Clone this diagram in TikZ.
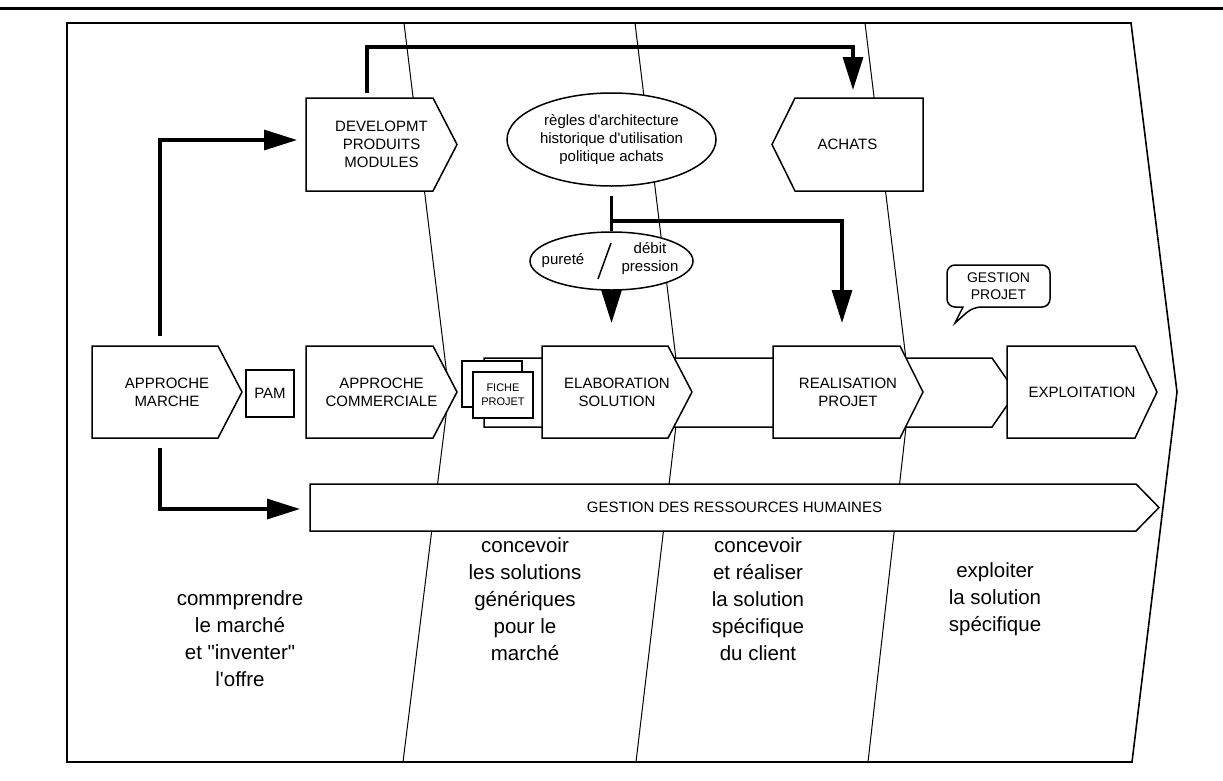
\documentclass[tikz,border=0pt]{standalone}
\usepackage{fontspec}
\setmainfont{Liberation Sans}[Ligatures=TeXOff]
\usetikzlibrary{arrows.meta,calc,shapes.geometric}
\pgfdeclarelayer{lanes}
\pgfdeclarelayer{shapes}
\pgfsetlayers{lanes,shapes,main}

% pentagon pointing east / west drawn around a named node
\newcommand\eastpent[2]{%
  \draw[boxline] (#1.north west) -- ($(#1.north east)+(-#2,0)$) -- (#1.east)
    -- ($(#1.south east)+(-#2,0)$) -- (#1.south west) -- cycle;}
\newcommand\westpent[2]{%
  \draw[boxline] (#1.west) -- ($(#1.north west)+(#2,0)$) -- (#1.north east)
    -- (#1.south east) -- ($(#1.south west)+(#2,0)$) -- cycle;}

\tikzset{
  boxline/.style={draw=black, line width=1.5pt, fill=white, line join=miter},
  laneline/.style={draw=black, line width=1pt},
  framebox/.style={draw=black, line width=1.6pt, line join=miter},
  wire/.style={draw=black, line width=3.2pt, line join=miter},
  arrowwire/.style={wire, -{Triangle[length=33pt,width=20pt]}},
  procbody/.style={inner sep=0pt, outer sep=0pt, align=center,
    font=\fontsize{15}{18}\selectfont},
  card/.style={draw=black, fill=white, line width=1.5pt, inner sep=0pt,
    minimum width=60pt, minimum height=46pt, align=center,
    font=\fontsize{11}{14}\selectfont},
  bubble/.style={ellipse, draw=black, fill=white, line width=1.5pt, inner sep=0pt},
  phase/.style={inner sep=0pt, align=center, font=\fontsize{20.5}{27}\selectfont},
}

\begin{document}
\begin{tikzpicture}[x=1pt,y=-1pt]
\useasboundingbox (0,0) rectangle (1223,780);

% heading rule
\draw[line width=3pt] (0,8) -- (1223,8);

% frame and phase lanes
\begin{pgfonlayer}{lanes}
  \draw[framebox] (67,23) -- (1131,23) -- (1177,392) -- (1132,762) -- (67,762) -- cycle;
  \draw[laneline] (404,23) -- (449,392) -- (403,762);
  \draw[laneline] (635,23) -- (680,392) -- (636,762);
  \draw[laneline] (865,23) -- (910,392) -- (868,762);
\end{pgfonlayer}

% process boxes
\node[procbody, minimum width=150pt, minimum height=92pt] (am) at (167,392) {APPROCHE\\MARCHE};
\node[procbody, draw=black, fill=white, line width=1.5pt, minimum width=48pt, minimum height=47pt] (pam) at (270,393.5) {PAM};
\node[procbody, minimum width=151pt, minimum height=92pt] (ac) at (381.5,392) {APPROCHE\\COMMERCIALE};
\node[procbody, minimum width=151pt, minimum height=93pt] (dev) at (381.5,144.5) {DEVELOPMT\\PRODUITS\\MODULES};
\node[procbody, minimum width=151pt, minimum height=93pt] (achats) at (847.5,144.5) {ACHATS};
\node[procbody, minimum width=532pt, minimum height=69pt] (band) at (750,392.5) {};
\node[procbody, minimum width=150pt, minimum height=92pt] (elab) at (617,392) {ELABORATION\\SOLUTION};
\node[procbody, minimum width=150pt, minimum height=92pt] (real) at (848,392) {REALISATION\\PROJET};
\node[procbody, minimum width=150pt, minimum height=92pt] (expl) at (1082,392) {EXPLOITATION};
\node[procbody, minimum width=849pt, minimum height=47pt] (grh) at (734.5,507.5) {GESTION DES RESSOURCES HUMAINES};

% project sheets
\node[card] (ficheback) at (492,384) {};
\node[card] (fiche) at (503,395) {FICHE\\PROJET};

% knowledge bubbles
\node[bubble, procbody, minimum width=209pt, minimum height=93pt] (regles) at (611.5,139.5)
  {règles d'architecture\\historique d'utilisation\\politique achats};
\node[bubble, minimum width=163pt, minimum height=58pt] (pur) at (611.5,261) {};
\node[procbody] (purete) at (563,261) {pureté};
\node[procbody] (debit) at (650,259) {débit\\pression};
\draw[line width=1.5pt] (611,243) -- (598,279);

% speech bubble
\node[procbody, font=\fontsize{14}{17}\selectfont, minimum width=103pt, minimum height=42pt] (gp) at (998.5,286) {GESTION\\PROJET};

\begin{pgfonlayer}{shapes}
  \eastpent{band}{24}
  \eastpent{am}{24}
  \eastpent{ac}{24}
  \eastpent{dev}{24}
  \westpent{achats}{23}
  \eastpent{elab}{24}
  \eastpent{real}{23}
  \eastpent{expl}{22}
  \eastpent{grh}{23}
  \draw[boxline] ($(gp.south west)+(16,0)$) [rounded corners=8pt] -- (gp.south west)
    -- (gp.north west) -- (gp.north east) -- (gp.south east)
    -- ($(gp.south west)+(26,0)$) [sharp corners] -- ($(gp.south west)+(8,16)$) -- cycle;
\end{pgfonlayer}

% connectors
\coordinate (amN) at ($(am.north)+(-7,-10)$);
\coordinate (amS) at ($(am.south)+(-7,10)$);
\draw[arrowwire] (amN) |- ($(dev.west)+(-9,-4.5)$);
\draw[arrowwire] (amS) |- ($(grh.west)+(-10,1.5)$);
\draw[arrowwire] ($(dev.north)+(-14.5,-5)$) -- ++(0,-46) -| ($(achats.north)+(5.5,-8)$);
\draw[wire] ($(regles.south)+(0,10)$) -- (pur.north);
\coordinate (split) at ($(regles.south)+(0,35)$);
\draw[arrowwire] (split) -| ($(real.north)+(-6,-23)$);
\draw[arrowwire] (pur.south) -- ($(elab.north)+(-5.5,-23)$);

% phase captions
\node[phase] (ph1) at (240,639) {commprendre\\le marché\\et "inventer"\\l'offre};
\node[phase] (ph2) at (525,599) {concevoir\\les solutions\\génériques\\pour le\\marché};
\node[phase] (ph3) at (758,599) {concevoir\\et réaliser\\la solution\\spécifique\\du client};
\node[phase] (ph4) at (995,599) {exploiter\\la solution\\spécifique};
\end{tikzpicture}
\end{document}
